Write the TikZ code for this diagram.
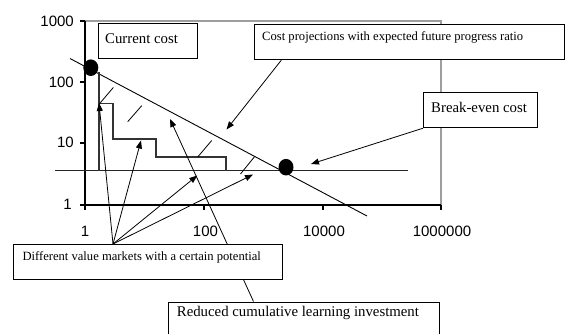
\documentclass[tikz,border=0pt]{standalone}
\usepackage{fontspec}
\setmainfont{Liberation Serif}
\newfontfamily\axisfont{Liberation Sans}
\usetikzlibrary{arrows.meta,calc,shapes.geometric}
\begin{document}
\begin{tikzpicture}[x=1pt,y=-1pt,
  box/.style={draw, line width=0.9pt, fill=white, inner sep=0pt, anchor=north west},
  bigtext/.style={font=\fontsize{14.8}{17}\selectfont, anchor=base west, inner sep=0pt},
  smalltext/.style={font=\fontsize{12.6}{15}\selectfont, anchor=base west, inner sep=0pt},
  axlab/.style={font=\axisfont\fontsize{15}{17}\selectfont, inner sep=0pt},
  arr/.style={-{Triangle[length=8pt,width=6pt]}, line width=0.8pt},
  frame/.style={draw=black!38, line width=1.1pt},
  axisline/.style={black, line width=1.1pt},
  stair/.style={black!80, line width=1.1pt},
  hatch/.style={black, line width=0.8pt},
  dot/.style={shape=ellipse, fill=black, inner sep=0pt, minimum width=15pt, minimum height=16.6pt}
]
\useasboundingbox (0,0) rectangle (565,334);
\clip (0,0) rectangle (565,334);
% plot frame
\draw[frame] (85,21) -- (441,21) -- (441,205);
\draw[axisline] (85,21) -- (85,205) -- (441,205);
\foreach \yy in {21,82,143,205} \draw[axisline] (80,\yy) -- (85,\yy);
\foreach \xx in {85,204,323,441} \draw[axisline] (\xx,205) -- (\xx,210);
% axis labels
\node[axlab, anchor=east] (y1000) at (74,21) {1000};
\node[axlab, anchor=east] (y100) at (74,82.5) {100};
\node[axlab, anchor=east] (y10) at (74,142.5) {10};
\node[axlab, anchor=east] (y1) at (72,204) {1};
\node[axlab] (x1) at (85,231.5) {1};
\node[axlab] (x100) at (205.5,231.5) {100};
\node[axlab] (x10000) at (324,231.5) {10000};
\node[axlab] (x1000000) at (442,231.5) {1000000};
% break-even horizontal line
\draw[line width=1pt, black!85] (55,171) -- (408,171);
% cost line
\draw[line width=0.9pt] (70,58.5) -- (367,216);
% staircase
\draw[stair] (99,72) -- (99,171);
\draw[stair] (99,103.5) -- (113,103.5) -- (113,139) -- (156,139) -- (156,157) -- (226,157) -- (226,171);
% hatches
\draw[hatch] (99.3,104) -- ++(14,-16.5);
\draw[hatch] (127.7,121.7) -- ++(14,-16);
\draw[hatch] (197.7,157) -- ++(14,-16.5);
\draw[hatch] (240.5,174) -- ++(14,-17.3);
% dots
\node[dot] (dotcur) at (90.8,67.7) {};
\node[dot] (dotbrk) at (286,167.2) {};
% reduced box and its connector (under the "different" box)
\node[box, minimum width=271pt, minimum height=50pt] (red) at (167.5,301.5) {};
\coordinate (redtip) at (170,119);
\draw[arr] ($(red.north west)+(86,0)$) -- (redtip);
% boxes
\node[box, minimum width=99pt, minimum height=35pt] (cur) at (98,23) {};
\node[box, minimum width=309.5pt, minimum height=35pt] (proj) at (254,24.3) {};
\node[box, minimum width=114pt, minimum height=35pt] (brk) at (423,92.3) {};
\node[box, minimum width=269pt, minimum height=35.3pt] (diff) at (13.3,244) {};
% texts
\node[bigtext] (curt) at (105,43.3) {Current cost};
\node[smalltext] (projt) at (262,40.8) {Cost projections with expected future progress ratio};
\node[bigtext] (brkt) at (431,112.7) {Break-even cost};
\node[smalltext] (difft) at (22.3,260) {Different value markets with a certain potential};
\node[bigtext] (redt) at (176.7,316.7) {Reduced cumulative learning investment};
% connectors
\coordinate (projtip) at (226.5,129.5);
\draw[arr] ($(proj.south west)+(27.3,0)$) -- (projtip);
\coordinate (brktip) at (311,164);
\draw[arr] (brk.south west) -- (brktip);
\coordinate (difffoot) at ($(diff.north west)+(99.7,0)$);
\coordinate (tipa) at (99,103);
\coordinate (tipb) at (141,140.5);
\coordinate (tipc) at (197.3,175.5);
\coordinate (tipd) at (253,174.5);
\foreach \t in {tipa,tipb,tipc,tipd} \draw[arr] (difffoot) -- (\t);
\end{tikzpicture}
\end{document}
